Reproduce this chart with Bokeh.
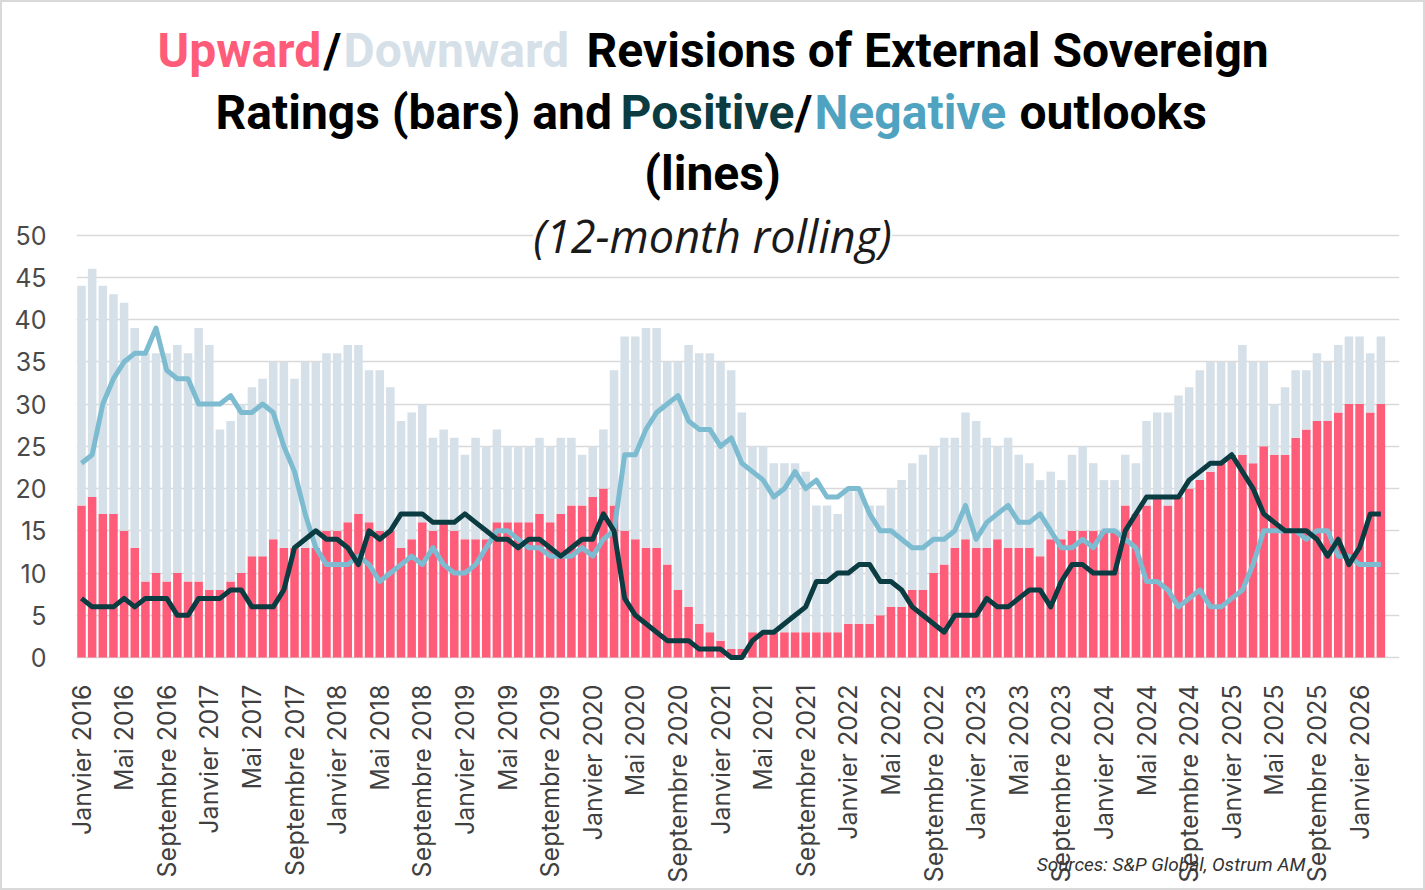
import math
from bokeh.plotting import figure
from bokeh.models import Range1d, FixedTicker, Label, ColumnDataSource, Title
from bokeh.embed import file_html
from bokeh.resources import INLINE

# ---------------- data ----------------
month_names = ["Janvier", "Février", "Mars", "Avril", "Mai", "Juin", "Juillet",
               "Août", "Septembre", "Octobre", "Novembre", "Décembre"]
years = list(range(2016, 2027))
n_months = 123  # Janvier 2016 -> Mars 2026
months = [f"{month_names[m]} {y}" for y in years for m in range(12)][:n_months]

# 12-month rolling counts
upward = [18, 19, 17, 17, 15, 13, 9, 10, 9, 10,
          9, 9, 8, 8, 9, 10, 12, 12, 14, 13,
          13, 13, 13, 15, 15, 16, 17, 16, 15, 15,
          13, 14, 16, 15, 16, 15, 14, 14, 14, 16,
          16, 16, 16, 17, 16, 17, 18, 18, 19, 20,
          18, 15, 14, 13, 13, 11, 8, 6, 4, 3,
          2, 1, 1, 3, 3, 3, 3, 3, 3, 3,
          3, 3, 4, 4, 4, 5, 6, 6, 8, 8,
          10, 11, 13, 14, 13, 13, 14, 13, 13, 13,
          12, 14, 14, 15, 15, 15, 15, 15, 18, 17,
          18, 19, 18, 19, 20, 21, 22, 23, 24, 24,
          23, 25, 24, 24, 26, 27, 28, 28, 29, 30,
          30, 29, 30]
downward = [26, 27, 27, 26, 27, 26, 27, 26, 27, 27,
            27, 30, 29, 19, 19, 20, 20, 21, 21, 22,
            20, 22, 22, 21, 21, 21, 20, 18, 19, 17,
            15, 15, 14, 11, 11, 11, 10, 12, 11, 11,
            9, 9, 9, 9, 9, 9, 8, 6, 6, 7,
            16, 23, 24, 26, 26, 24, 27, 31, 32, 33,
            33, 33, 28, 22, 22, 20, 20, 20, 19, 15,
            15, 14, 16, 16, 14, 13, 14, 15, 15, 16,
            15, 15, 13, 15, 15, 13, 11, 13, 11, 10,
            9, 8, 7, 9, 10, 8, 6, 6, 6, 6,
            10, 10, 11, 12, 12, 13, 13, 12, 11, 13,
            12, 10, 6, 8, 8, 7, 8, 7, 8, 8,
            8, 7, 8]
positive = [7, 6, 6, 6, 7, 6, 7, 7, 7, 5,
            5, 7, 7, 7, 8, 8, 6, 6, 6, 8,
            13, 14, 15, 14, 14, 13, 11, 15, 14, 15,
            17, 17, 17, 16, 16, 16, 17, 16, 15, 14,
            14, 13, 14, 14, 13, 12, 13, 14, 14, 17,
            15, 7, 5, 4, 3, 2, 2, 2, 1, 1,
            1, 0, 0, 2, 3, 3, 4, 5, 6, 9,
            9, 10, 10, 11, 11, 9, 9, 8, 6, 5,
            4, 3, 5, 5, 5, 7, 6, 6, 7, 8,
            8, 6, 9, 11, 11, 10, 10, 10, 15, 17,
            19, 19, 19, 19, 21, 22, 23, 23, 24, 22,
            20, 17, 16, 15, 15, 15, 14, 12, 14, 11,
            13, 17, 17]
negative = [23, 24, 30, 33, 35, 36, 36, 39, 34, 33,
            33, 30, 30, 30, 31, 29, 29, 30, 29, 25,
            22, 17, 13, 11, 11, 11, 12, 11, 9, 10,
            11, 12, 11, 13, 11, 10, 10, 11, 13, 15,
            15, 14, 13, 13, 12, 12, 12, 13, 12, 14,
            15, 24, 24, 27, 29, 30, 31, 28, 27, 27,
            25, 26, 23, 22, 21, 19, 20, 22, 20, 21,
            19, 19, 20, 20, 17, 15, 15, 14, 13, 13,
            14, 14, 15, 18, 14, 16, 17, 18, 16, 16,
            17, 15, 13, 13, 14, 13, 15, 15, 14, 13,
            9, 9, 8, 6, 7, 8, 6, 6, 7, 8,
            11, 15, 15, 15, 15, 14, 15, 15, 12, 12,
            11, 11, 11]

y_ticks = [0, 5, 10, 15, 20, 25, 30, 35, 40, 45, 50]
x_ticks = list(range(0, n_months, 4))

# ---------------- style ----------------
RED = "#FF5C7A"
GREY = "#D6E0E8"
DARK = "#0B3C42"
LIGHT = "#7DBCD0"
NEG_TITLE = "#4FA3C0"
TICK_COLOR = "#404040"

W, H = 1425, 890
FL, FR, FT, FB = 76, 1399, 0, 660      # frame edges (page pixels); frame reaches the top
SY = 8.45                              # pixels per unit on the y axis
XR = (-0.47, 123.75)
YR = (-0.35, -0.35 + (FB - FT) / SY)
BASE_FIX = 17                          # label baseline correction (px)

p = figure(width=W, height=H, output_backend="svg", toolbar_location=None,
           x_range=Range1d(*XR), y_range=Range1d(*YR),
           min_border_left=FL, min_border_right=W - FR,
           min_border_top=FT, min_border_bottom=H - FB,
           styles={"box-shadow": "inset 0 0 0 2px #D9D9D9"})
p.outline_line_color = None
p.background_fill_alpha = 0
p.border_fill_alpha = 0

sx = (FR - FL) / (XR[1] - XR[0])
def dx(px):
    return XR[0] + (px - FL) / sx
def dy(py):
    return YR[0] + (FB - py) / SY

# grid & axes
p.xgrid.visible = False
p.ygrid.grid_line_color = "#D9D9D9"
p.ygrid.grid_line_width = 1.5
p.yaxis.ticker = FixedTicker(ticks=y_ticks)
p.yaxis.axis_line_color = None
p.yaxis.major_tick_line_color = None
p.yaxis.minor_tick_line_color = None
p.yaxis.major_label_text_font = "Inter"
p.yaxis.major_label_text_font_size = "25px"
p.yaxis.major_label_text_color = "#4A4A4A"
p.yaxis.major_label_standoff = 24

p.xaxis.ticker = FixedTicker(ticks=x_ticks)
p.xaxis.major_label_overrides = {i: months[i] for i in x_ticks}
p.xaxis.major_label_orientation = math.pi / 2
p.xaxis.axis_line_color = None
p.xaxis.major_tick_line_color = None
p.xaxis.minor_tick_line_color = None
p.xaxis.major_label_text_font = "Inter"
p.xaxis.major_label_text_font_size = "25px"
p.xaxis.major_label_text_color = TICK_COLOR
p.xaxis.major_label_standoff = 18

# bars
src = ColumnDataSource(dict(x=list(range(n_months)), upward=upward, downward=downward))
p.vbar_stack(["upward", "downward"], x="x", width=0.8, color=[RED, GREY],
             line_color=None, source=src)

# lines
p.line(list(range(n_months)), negative, line_color=LIGHT, line_width=5, line_join="round")
p.line(list(range(n_months)), positive, line_color=DARK, line_width=5, line_join="round")

# title, written segment by segment so that words can take their series colour
def seg(text, px, py, color, size="48px", style="bold", font="Roboto", align="left", bg=None):
    lab = Label(x=dx(px), y=dy(py - BASE_FIX), text=text, text_color=color, text_font=font,
                text_font_size=size, text_font_style=style, text_align=align,
                text_baseline="alphabetic")
    if bg is not None:
        lab.background_fill_color = bg
    p.add_layout(lab)

seg("Upward", 157, 67, RED)
seg("/", 323, 67, "#000000")
seg("Downward", 343, 67, GREY)
seg("Revisions of External Sovereign", 586, 67, "#000000")
seg("Ratings (bars) and", 215, 129, "#000000")
seg("Positive", 620, 129, DARK)
seg("/", 794, 129, "#000000")
seg("Negative", 814, 129, NEG_TITLE)
seg("outlooks", 1019, 129, "#000000")
seg("(lines)", 712, 190, "#000000", align="center")
seg("(12-month rolling)", 712, 252, "#1A1A1A", size="45px", style="italic",
    font="Open Sans", align="center", bg="white")

# source note (below the axis, pulled up over the tick labels)
p.add_layout(Title(text="Sources: S&P Global, Ostrum AM", align="right", offset=94,
                   vertical_align="top", standoff=-66, text_font="Roboto",
                   text_font_size="19px", text_font_style="italic",
                   text_color="#333333"), "below")

open("out.html", "w").write(file_html(p, INLINE))
